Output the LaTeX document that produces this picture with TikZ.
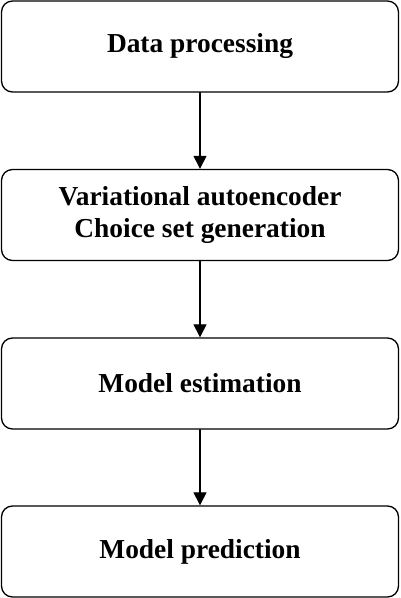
\documentclass[tikz,border=0pt]{standalone}
\usepackage{fontspec}
\setmainfont{Liberation Serif}
\usetikzlibrary{arrows.meta}
\begin{document}
\begin{tikzpicture}[x=1pt,y=1pt,line cap=round,line join=round,
    stage/.style={draw,line width=1.3pt,rounded corners=11pt,minimum width=397pt,
      minimum height=91pt,align=center,font=\fontsize{27.4}{32}\selectfont\bfseries},
    flow/.style={line width=1.1pt,-{Triangle[width=13pt,length=13pt]}}]
  \useasboundingbox (0,0) rectangle (400,598);

  % Four stacked stages of the pipeline.
  \node[stage] (proc) at (200,551.5) {Data processing};
  \node[stage] (vae) at (200,383) {Variational autoencoder\\Choice set generation};
  \node[stage] (est) at (200,214.5) {Model estimation};
  \node[stage] (pred) at (200,46.5) {Model prediction};

  \draw[flow] (proc.south)--(vae.north);
  \draw[flow] (vae.south)--(est.north);
  \draw[flow] (est.south)--(pred.north);
\end{tikzpicture}
\end{document}
